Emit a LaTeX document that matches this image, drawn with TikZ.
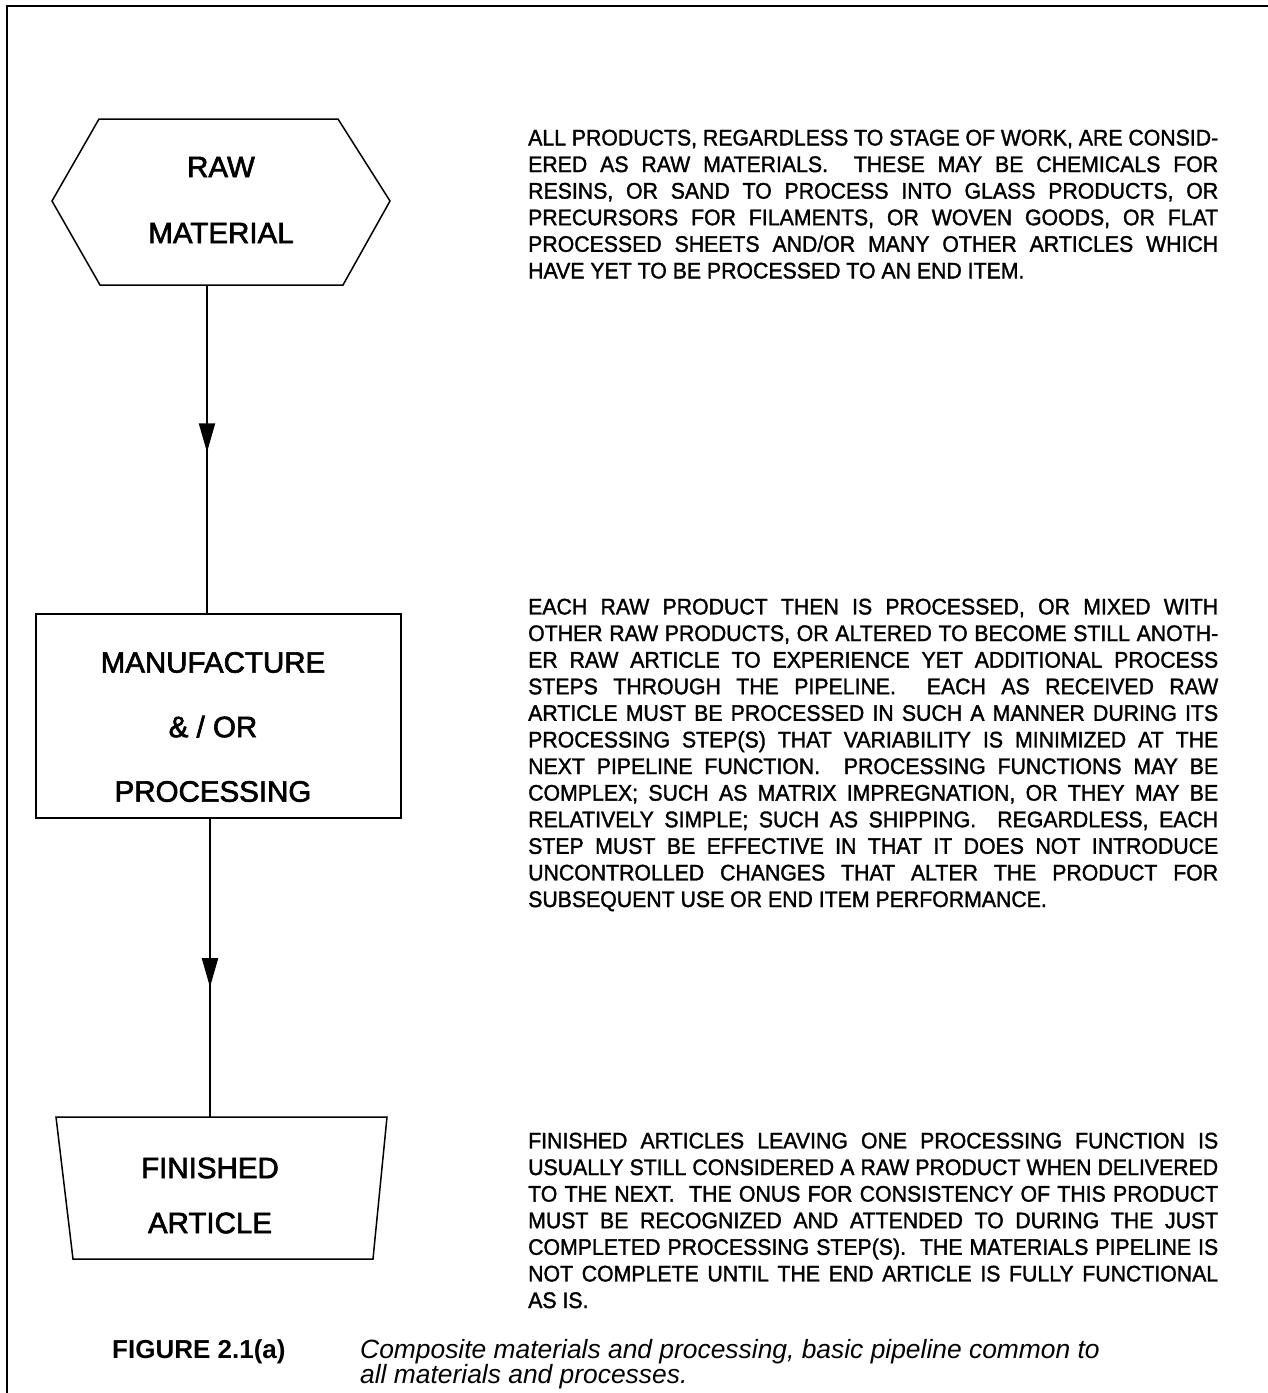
\documentclass[tikz,border=0pt]{standalone}
\usepackage{fontspec}
\setmainfont{Liberation Sans}
\newfontfamily\bodyfont[FakeStretch=0.945,FakeBold=1.5]{Liberation Sans}
\newfontfamily\lblfont[FakeBold=2.2]{Liberation Sans}
\usetikzlibrary{arrows.meta,decorations.markings}
\newcommand{\jl}[1]{\makebox[690pt][s]{#1}}
\begin{document}
\begin{tikzpicture}[x=1pt,y=-1pt,
  outline/.style={draw, line width=1.5pt, line join=miter},
  frame/.style={line width=2.2pt},
  lbl/.style={align=center, inner sep=0pt},
  body/.style={font=\bodyfont\fontsize{22.5}{26.6}\selectfont, align=left, anchor=north west, inner sep=0pt},
  flow/.style={line width=2pt, postaction={decorate}},
]
\useasboundingbox (0,0) rectangle (1268,1393);
% frame (top and left only)
\draw[frame] (7,1393) -- (7,6) -- (1268,6);

% raw material hexagon
\draw[outline] (99,119) -- (338,119) -- (390,201) -- (343,285) -- (100,285) -- (52,201) -- cycle;
\node[lbl, font=\lblfont\fontsize{29.5}{66}\selectfont] (raw) at (221,200) {RAW\\MATERIAL};
\coordinate (hexS) at (207,285);

% manufacture box
\node[outline, minimum width=365pt, minimum height=204pt, anchor=north west, inner sep=0pt] (box) at (35,613) {};
\node[lbl, font=\lblfont\fontsize{29.5}{64.5}\selectfont] (boxlbl) at (213,727) {MANUFACTURE\\\& / OR\\PROCESSING};

% finished article trapezoid
\draw[outline] (56,1117) -- (387,1117) -- (373,1259) -- (73,1259) -- cycle;
\coordinate (trapN) at (210,1117);
\node[lbl, font=\lblfont\fontsize{29.5}{55}\selectfont] (fin) at (210,1195.5) {FINISHED\\ARTICLE};

% connectors
\draw[flow, decoration={markings, mark=at position 0.51 with {\arrow{Triangle[length=29pt,width=16pt]}}}] (hexS) -- (hexS |- box.north);
\draw[flow, decoration={markings, mark=at position 0.565 with {\arrow{Triangle[length=29pt,width=16pt]}}}] (box.south -| trapN) -- (trapN);

% text blocks
\node[body] (t1) at (528,129.5) {%
\jl{ALL PRODUCTS, REGARDLESS TO STAGE OF WORK, ARE CONSID-}\\
\jl{ERED AS RAW MATERIALS.\ \ THESE MAY BE CHEMICALS FOR}\\
\jl{RESINS, OR SAND TO PROCESS INTO GLASS PRODUCTS, OR}\\
\jl{PRECURSORS FOR FILAMENTS, OR WOVEN GOODS, OR FLAT}\\
\jl{PROCESSED SHEETS AND/OR MANY OTHER ARTICLES WHICH}\\
HAVE YET TO BE PROCESSED TO AN END ITEM.};

\node[body] (t2) at (528,598.5) {%
\jl{EACH RAW PRODUCT THEN IS PROCESSED, OR MIXED WITH}\\
\jl{OTHER RAW PRODUCTS, OR ALTERED TO BECOME STILL ANOTH-}\\
\jl{ER RAW ARTICLE TO EXPERIENCE YET ADDITIONAL PROCESS}\\
\jl{STEPS THROUGH THE PIPELINE.\ \ EACH AS RECEIVED RAW}\\
\jl{ARTICLE MUST BE PROCESSED IN SUCH A MANNER DURING ITS}\\
\jl{PROCESSING STEP(S) THAT VARIABILITY IS MINIMIZED AT THE}\\
\jl{NEXT PIPELINE FUNCTION.\ \ PROCESSING FUNCTIONS MAY BE}\\
\jl{COMPLEX; SUCH AS MATRIX IMPREGNATION, OR THEY MAY BE}\\
\jl{RELATIVELY SIMPLE; SUCH AS SHIPPING.\ \ REGARDLESS, EACH}\\
\jl{STEP MUST BE EFFECTIVE IN THAT IT DOES NOT INTRODUCE}\\
\jl{UNCONTROLLED CHANGES THAT ALTER THE PRODUCT FOR}\\
SUBSEQUENT USE OR END ITEM PERFORMANCE.};

\node[body] (t3) at (528,1132.5) {%
\jl{FINISHED ARTICLES LEAVING ONE PROCESSING FUNCTION IS}\\
\jl{USUALLY STILL CONSIDERED A RAW PRODUCT WHEN DELIVERED}\\
\jl{TO THE NEXT.\ \ THE ONUS FOR CONSISTENCY OF THIS PRODUCT}\\
\jl{MUST BE RECOGNIZED AND ATTENDED TO DURING THE JUST}\\
\jl{COMPLETED PROCESSING STEP(S).\ \ THE MATERIALS PIPELINE IS}\\
\jl{NOT COMPLETE UNTIL THE END ARTICLE IS FULLY FUNCTIONAL}\\
AS IS.};

% caption
\node[anchor=base west, inner sep=0pt, font=\bfseries\fontsize{26}{26}\selectfont] (fig) at (112,1358) {FIGURE 2.1(a)};
\node[anchor=base west, inner sep=0pt, font=\itshape\fontsize{26.4}{26}\selectfont] (cap1) at (360,1358) {Composite materials and processing, basic pipeline common to};
\node[anchor=base west, inner sep=0pt, font=\itshape\fontsize{26.4}{26}\selectfont] (cap2) at (360,1383) {all materials and processes.};
\end{tikzpicture}
\end{document}
